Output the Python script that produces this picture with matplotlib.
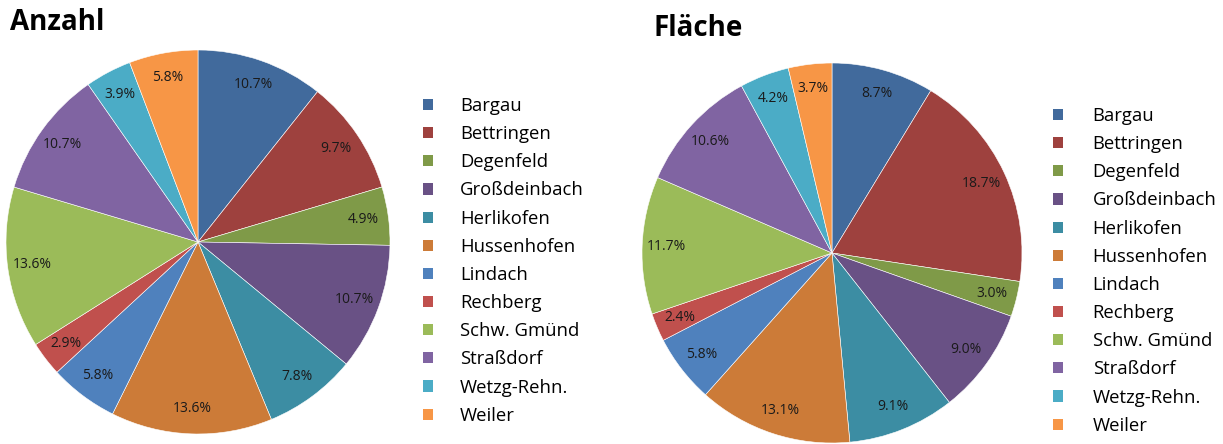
import matplotlib
matplotlib.use('Agg')
import matplotlib.pyplot as plt
from matplotlib.patches import Patch

plt.rcParams['font.family'] = ['Open Sans', 'DejaVu Sans']

ORTE = ['Bargau', 'Bettringen', 'Degenfeld', 'Großdeinbach', 'Herlikofen', 'Hussenhofen',
        'Lindach', 'Rechberg', 'Schw. Gmünd', 'Straßdorf', 'Wetzg-Rehn.', 'Weiler']
ANZAHL = [10.7, 9.7, 4.9, 10.7, 7.8, 13.6, 5.8, 2.9, 13.6, 10.7, 3.9, 5.8]
FLAECHE = [8.7, 18.7, 3.0, 9.0, 9.1, 13.1, 5.8, 2.4, 11.7, 10.6, 4.2, 3.7]
FARBEN = ['#416A9C', '#9E413E', '#7F9A48', '#695185', '#3C8DA3', '#CC7B38',
          '#4F81BD', '#C0504D', '#9BBB59', '#8064A2', '#4BACC6', '#F79646']

W, H = 1223, 444
fig = plt.figure(figsize=(W / 100, H / 100), dpi=100)


def pie_ax(cx, cy, r):
    # Achse in Pixelkoordinaten (y von oben)
    return fig.add_axes([(cx - r) / W, (H - cy - r) / H, 2 * r / W, 2 * r / H])


def zeichne(ax, werte):
    wedges, _, autotexts = ax.pie(werte, colors=FARBEN, startangle=90, counterclock=False,
                                  autopct='%1.1f%%', pctdistance=0.87,
                                  wedgeprops=dict(edgecolor='white', linewidth=0.4),
                                  textprops=dict(fontsize=10, color='#1a1a1a'))
    ax.set_xlim(-1.0, 1.0); ax.set_ylim(-1.0, 1.0)
    ax.set_aspect('equal')
    for w in wedges:
        w.set_clip_on(False)
    return wedges


ax1 = pie_ax(198, 242, 192)
zeichne(ax1, ANZAHL)
ax2 = pie_ax(832, 253, 190)
zeichne(ax2, FLAECHE)

fig.text(10 / W, 1 - 22 / H, 'Anzahl', fontsize=20, fontweight='bold', va='center', ha='left')
fig.text(654 / W, 1 - 29 / H, 'Fläche', fontsize=20, fontweight='bold', va='center', ha='left')

handles = [Patch(facecolor=c, edgecolor='none') for c in FARBEN]
for x0, y0, pad in [(423, 97, 1.45), (1053, 107, 1.6)]:
    fig.legend(handles, ORTE, loc='upper left', bbox_to_anchor=(x0 / W, 1 - y0 / H),
               frameon=False, fontsize=13.3, handlelength=0.55, handleheight=0.55,
               handletextpad=pad, labelspacing=0.55, borderpad=0, borderaxespad=0)

fig.savefig('out.png', dpi=100)
